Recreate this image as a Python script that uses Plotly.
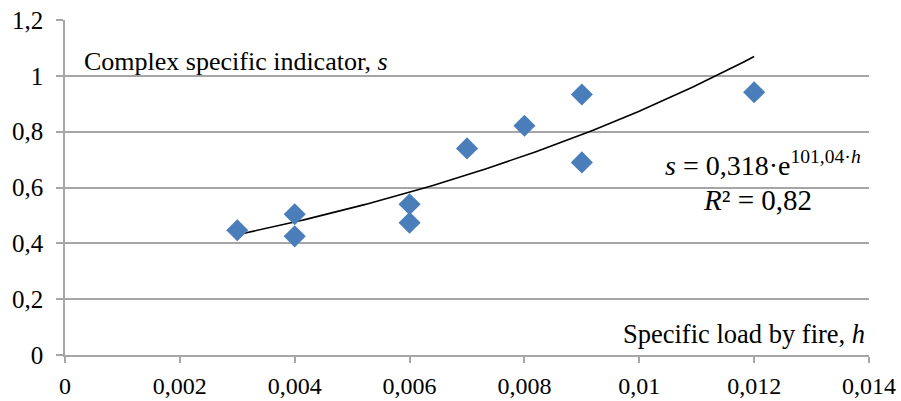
import numpy as np
import plotly.graph_objects as go

h_vals = [0.003, 0.004, 0.004, 0.006, 0.006, 0.007, 0.008, 0.009, 0.009, 0.012]
s_vals = [0.447, 0.504, 0.425, 0.540, 0.474, 0.740, 0.821, 0.933, 0.690, 0.941]
trend_a = 0.318
trend_b = 101.04
trend_range = [0.003, 0.012]

x_ticks = [0, 0.002, 0.004, 0.006, 0.008, 0.01, 0.012, 0.014]
y_ticks = [0, 0.2, 0.4, 0.6, 0.8, 1.0, 1.2]

font_family = "Liberation Serif"
grid_col = "#a6a6a6"

ht = np.linspace(trend_range[0], trend_range[1], 200)
st = trend_a * np.exp(trend_b * ht)

fig = go.Figure()
fig.add_trace(go.Scatter(x=ht, y=st, mode="lines", line=dict(color="black", width=1.6),
                         showlegend=False, hoverinfo="skip"))
fig.add_trace(go.Scatter(x=h_vals, y=s_vals, mode="markers",
                         marker=dict(symbol="diamond", size=17, color="#4a7ebb"),
                         showlegend=False))

fig.update_layout(
    width=901, height=401,
    margin=dict(l=65, r=32, t=20, b=46, autoexpand=False),
    plot_bgcolor="white", paper_bgcolor="white",
    separators=", ",
    font=dict(family=font_family, size=25, color="black"),
    xaxis=dict(range=[0, 0.014], tickvals=x_ticks, showgrid=False, zeroline=False,
               showline=True, linecolor=grid_col, linewidth=1.5, automargin=False,
               ticks="outside", ticklen=6, tickcolor=grid_col, tickwidth=1.5,
               ticklabelstandoff=2, tickfont=dict(size=24)),
    yaxis=dict(range=[0, 1.2], tickvals=y_ticks, showgrid=True, gridcolor=grid_col, gridwidth=1.5,
               zeroline=False, showline=True, linecolor=grid_col, linewidth=1.5, automargin=False,
               ticks="outside", ticklen=7, tickcolor=grid_col, tickwidth=1.5,
               ticklabelstandoff=8),
    annotations=[
        dict(xref="x", yref="y", x=0.00029, y=1.053, xanchor="left", yanchor="middle",
             text="Complex specific indicator, <i>s</i>", showarrow=False,
             font=dict(size=26)),
        dict(xref="x", yref="y", x=0.01397, y=0.077, xanchor="right", yanchor="middle",
             text="Specific load by fire, <i>h</i>", showarrow=False,
             font=dict(size=26.5)),
        dict(xref="x", yref="y", x=0.0139, y=0.687, xanchor="right", yanchor="middle",
             text="<i>s</i> = 0,318·e<sup>101,04·<i>h</i></sup>", showarrow=False,
             font=dict(size=28)),
        dict(xref="x", yref="y", x=0.01205, y=0.554, xanchor="center", yanchor="middle",
             text="<i>R</i>² = 0,82", showarrow=False,
             font=dict(size=29)),
    ],
)
fig.write_html("out.html")
